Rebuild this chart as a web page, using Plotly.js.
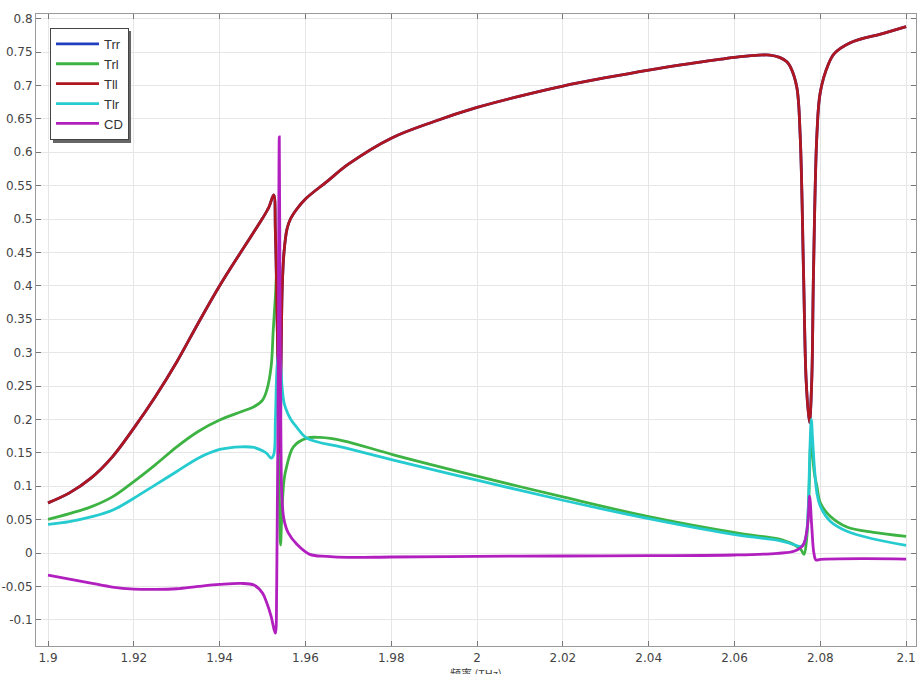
<!DOCTYPE html>
<html>
<head>
<meta charset="utf-8">
<script src="https://cdn.plot.ly/plotly-3.0.1.min.js"></script>
<style>html,body{margin:0;padding:0;background:#fff;}#chart{width:924px;height:674px;}</style>
</head>
<body>
<div id="chart"></div>
<script>
// ---- data ----
const tllX = [1.9, 1.905, 1.91, 1.915, 1.92, 1.925, 1.93, 1.935, 1.94, 1.945, 1.95, 1.9515, 1.9526, 1.953, 1.9534, 1.9538, 1.9541, 1.9543, 1.9546, 1.955, 1.9557, 1.9565, 1.958, 1.96, 1.965, 1.97, 1.98, 1.99, 2.0, 2.01, 2.02, 2.03, 2.04, 2.05, 2.06, 2.065, 2.0682, 2.0705, 2.0722, 2.073, 2.0745, 2.0753, 2.0761, 2.0767, 2.07746, 2.078, 2.0784, 2.0792, 2.08, 2.0819, 2.0833, 2.087, 2.0947, 2.1];
const tllY = [0.075, 0.09, 0.112, 0.144, 0.187, 0.234, 0.286, 0.344, 0.40, 0.451, 0.501, 0.518, 0.536, 0.48, 0.35, 0.22, 0.15, 0.28, 0.40, 0.45, 0.485, 0.50, 0.515, 0.530, 0.556, 0.582, 0.621, 0.646, 0.667, 0.684, 0.699, 0.7115, 0.723, 0.733, 0.742, 0.745, 0.7455, 0.742, 0.7355, 0.728, 0.698, 0.626, 0.416, 0.258, 0.195, 0.258, 0.416, 0.626, 0.69, 0.732, 0.748, 0.764, 0.778, 0.788];

// Trr lies exactly under Tll in the reference (blue never visible)
const trrX = tllX;
const trrY = tllY;

const trlX = [1.9, 1.905, 1.91, 1.915, 1.92, 1.925, 1.93, 1.935, 1.94, 1.945, 1.948, 1.95, 1.951, 1.952, 1.9525, 1.953, 1.9533, 1.9537, 1.954, 1.9542, 1.9545, 1.955, 1.9556, 1.9572, 1.9603, 1.9634, 1.9688, 1.9805, 2.0007, 2.02, 2.0403, 2.0605, 2.0702, 2.0722, 2.074, 2.0755, 2.0762, 2.0768, 2.0773, 2.0777, 2.0779, 2.0782, 2.0786, 2.0792, 2.08, 2.0823, 2.0862, 2.0924, 2.1];
const trlY = [0.0505, 0.059, 0.069, 0.084, 0.107, 0.132, 0.159, 0.182, 0.199, 0.2115, 0.219, 0.229, 0.244, 0.279, 0.334, 0.384, 0.42, 0.2, 0.05, 0.012, 0.06, 0.109, 0.129, 0.159, 0.172, 0.173, 0.168, 0.147, 0.114, 0.084, 0.054, 0.030, 0.021, 0.017, 0.012, 0.005, -0.002, 0.02, 0.08, 0.16, 0.175, 0.15, 0.12, 0.1, 0.075, 0.055, 0.039, 0.031, 0.025];

const tlrX = [1.9, 1.905, 1.91, 1.915, 1.92, 1.925, 1.93, 1.935, 1.94, 1.945, 1.948, 1.95, 1.951, 1.952, 1.9526, 1.953, 1.9534, 1.9538, 1.9542, 1.9546, 1.955, 1.9558, 1.9566, 1.958, 1.9603, 1.9688, 1.9805, 2.0007, 2.02, 2.0403, 2.0605, 2.0702, 2.0722, 2.0745, 2.0755, 2.0762, 2.0768, 2.0772, 2.0776, 2.0779, 2.0782, 2.0786, 2.0792, 2.08, 2.0823, 2.0862, 2.0924, 2.1];
const tlrY = [0.043, 0.047, 0.054, 0.064, 0.082, 0.102, 0.122, 0.142, 0.155, 0.159, 0.158, 0.153, 0.149, 0.142, 0.147, 0.20, 0.28, 0.30, 0.28, 0.245, 0.225, 0.21, 0.2, 0.188, 0.172, 0.158, 0.139, 0.108, 0.079, 0.051, 0.027, 0.019, 0.016, 0.011, 0.010, 0.014, 0.03, 0.07, 0.16, 0.2, 0.17, 0.13, 0.09, 0.07, 0.0475, 0.0325, 0.021, 0.0115];

const cdX = [1.9, 1.905, 1.91, 1.915, 1.92, 1.925, 1.93, 1.935, 1.94, 1.945, 1.948, 1.95, 1.951, 1.952, 1.9527, 1.953, 1.9533, 1.9536, 1.9539, 1.9541, 1.9543, 1.9545, 1.955, 1.956, 1.958, 1.961, 1.965, 1.97, 1.98, 2.0, 2.02, 2.04, 2.06, 2.07, 2.074, 2.076, 2.077, 2.0775, 2.078, 2.0785, 2.079, 2.08, 2.09, 2.1];
const cdY = [-0.033, -0.039, -0.045, -0.051, -0.054, -0.0545, -0.0535, -0.050, -0.047, -0.0455, -0.048, -0.06, -0.075, -0.095, -0.115, -0.12, -0.05, 0.2, 0.623, 0.35, 0.16, 0.085, 0.05, 0.03, 0.013, -0.002, -0.005, -0.0065, -0.006, -0.005, -0.0045, -0.004, -0.003, -0.0005, 0.003, 0.012, 0.04, 0.085, 0.04, 0.0, -0.0105, -0.0095, -0.0085, -0.009];

const seriesNames = ['Trr', 'Trl', 'Tll', 'Tlr', 'CD'];
const xTickVals = [1.9, 1.92, 1.94, 1.96, 1.98, 2.0, 2.02, 2.04, 2.06, 2.08, 2.1];
const xTickText = ['1.9', '1.92', '1.94', '1.96', '1.98', '2', '2.02', '2.04', '2.06', '2.08', '2.1'];
const yTickVals = [-0.1, -0.05, 0, 0.05, 0.1, 0.15, 0.2, 0.25, 0.3, 0.35, 0.4, 0.45, 0.5, 0.55, 0.6, 0.65, 0.7, 0.75, 0.8];
const yTickText = ['-0.1', '-0.05', '0', '0.05', '0.1', '0.15', '0.2', '0.25', '0.3', '0.35', '0.4', '0.45', '0.5', '0.55', '0.6', '0.65', '0.7', '0.75', '0.8'];
const xTitle = '频率 (THz)';

// ---- styling ----
const colors = ['#1f3fbf', '#3db343', '#b0161f', '#26cbd0', '#b21fbf'];
const xs = [trrX, trlX, tllX, tlrX, cdX];
const ys = [trrY, trlY, tllY, tlrY, cdY];

const traces = seriesNames.map((n, i) => ({
  type: 'scatter', mode: 'lines', name: n, x: xs[i], y: ys[i],
  line: {color: colors[i], width: 2.8, shape: 'spline', smoothing: 1.0}
}));

const axisCommon = {
  showline: true, linecolor: '#9a9a9a', linewidth: 1, mirror: 'ticks',
  ticks: 'inside', ticklen: 5, tickcolor: '#777', tickwidth: 1,
  showgrid: true, gridcolor: '#e6e6e6', gridwidth: 1, zeroline: false,
  tickfont: {family: 'DejaVu Sans', size: 12, color: '#444'}
};

const layout = {
  width: 924, height: 674,
  margin: {l: 36, r: 8, t: 14, b: 28},
  paper_bgcolor: '#fff', plot_bgcolor: '#fff',
  showlegend: true,
  xaxis: Object.assign({}, axisCommon, {
    range: [1.8972, 2.1023], tickvals: xTickVals, ticktext: xTickText,
    ticklabelstandoff: 1, automargin: false
  }),
  yaxis: Object.assign({}, axisCommon, {
    range: [-0.1392, 0.8069], tickvals: yTickVals, ticktext: yTickText, automargin: false
  }),
  legend: {
    x: 0.0159, y: 0.978, xanchor: 'left', yanchor: 'top',
    bgcolor: '#fff', bordercolor: '#444', borderwidth: 1,
    font: {family: 'Liberation Sans', size: 13, color: '#333'},
    itemwidth: 43, tracegroupgap: 0
  },
  annotations: [{
    text: xTitle, xref: 'paper', yref: 'paper', x: 0.5, y: 0, yshift: -18,
    xanchor: 'center', yanchor: 'top', showarrow: false, borderpad: 0,
    font: {family: 'Noto Sans CJK SC', size: 11, color: '#444'}
  }],
  shapes: [{
    type: 'rect', xref: 'paper', yref: 'paper', layer: 'above',
    x0: 0.0193, x1: 0.108, y0: 0.7959, y1: 0.9731,
    fillcolor: '#666', line: {width: 0}
  }]
};

Plotly.newPlot('chart', traces, layout, {displayModeBar: false, staticPlot: true});
</script>
</body>
</html>
